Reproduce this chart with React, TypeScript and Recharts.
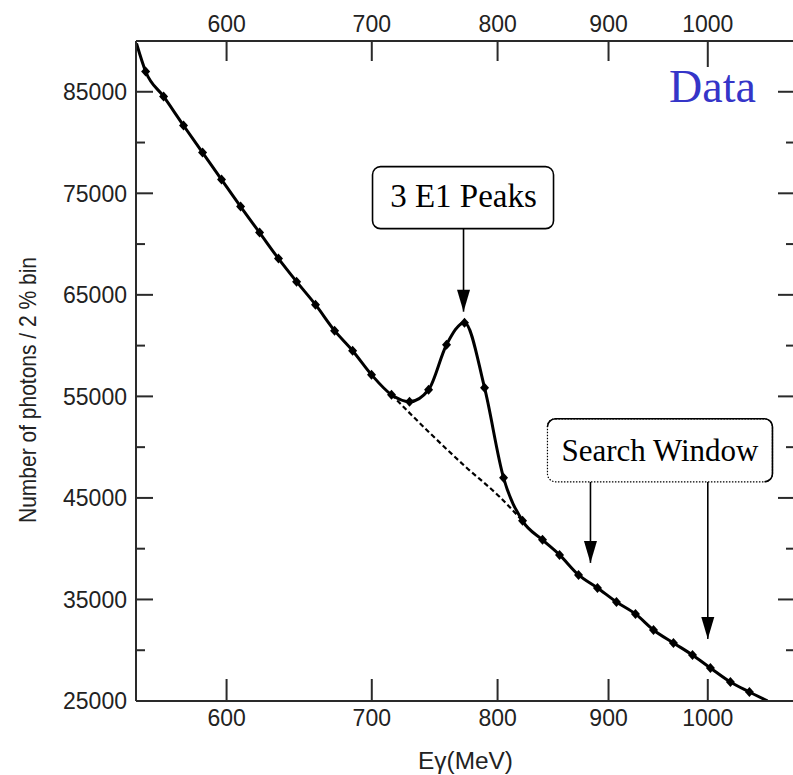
import React from 'react';
import { ComposedChart, Line, XAxis, YAxis, ReferenceDot, ReferenceLine, Label } from 'recharts';

// Measured spectrum (E gamma in MeV, photons per 2% bin)
const energies = [545.3, 550.6, 561.2, 573.2, 584.9, 596.8, 609.0, 621.4, 634.0, 646.3, 659.4, 672.9, 685.9, 699.8, 714.8, 728.6, 743.5, 757.8, 772.4, 789.0, 805.1, 821.5, 839.1, 854.4, 871.8, 889.5, 907.6, 926.1, 944.0, 964.2, 983.9, 1002.8, 1024.3, 1045.2, 1065.4];
const photons = [89760, 87000, 84536, 81678, 79016, 76355, 73694, 71131, 68568, 66301, 64034, 61471, 59500, 57134, 55162, 54472, 55655, 60091, 62259, 55852, 46981, 42743, 40870, 39391, 37420, 36138, 34758, 33576, 31998, 30717, 29534, 28253, 26873, 25887, 25000];

// Smooth background under the peak (dashed)
const bgEnergies = [714.8, 744.3, 772.4, 801.7, 821.5];
const bgPhotons = [55162, 51417, 48164, 45108, 42743];

const xTicks = [600, 700, 800, 900, 1000];
const yTicks = [25000, 30000, 35000, 40000, 45000, 50000, 55000, 60000, 65000, 70000, 75000, 80000, 85000, 90000];
const yLabelTicks = [25000, 35000, 45000, 55000, 65000, 75000, 85000];

// Annotation anchors (data coordinates)
const peakArrowTip = { e: 771.6, n: 63344 };
const peakArrowBase = { n: 71525 };
const searchBox = { e: 950.5, n: 49692 };
const searchBoxBottom = 46587;
const searchLeftTip = { e: 882.9, n: 38603 };
const searchRightTip = { e: 1000, n: 31111 };
const dataLabel = { e: 1005, n: 83945 };

const spectrum = energies.map((e, i) => ({ e, n: photons[i] }));
const background = bgEnergies.map((e, i) => ({ e, bg: bgPhotons[i] }));

const SANS = '"Liberation Sans", Arial, Helvetica, sans-serif';
const SERIF = '"Liberation Serif", "Times New Roman", serif';
const AX = '#2a2a2a';

const BottomTick = (p: any) => (
  <g>
    <line x1={p.x} x2={p.x} y1={p.y} y2={p.y - 22} stroke={AX} strokeWidth={2} />
    <text x={p.x} y={p.y + 25} textAnchor="middle" fontFamily={SANS} fontSize={23} fill="#222">{p.payload.value}</text>
  </g>
);
const TopTick = (p: any) => (
  <g>
    <line x1={p.x} x2={p.x} y1={p.y} y2={p.y + (p.payload.value === 1000 ? 26 : 20)} stroke={AX} strokeWidth={2} />
    <text x={p.x} y={p.y - 9} textAnchor="middle" fontFamily={SANS} fontSize={23} fill="#222">{p.payload.value}</text>
  </g>
);
const LeftTick = (p: any) => {
  const major = yLabelTicks.includes(p.payload.value);
  return (
    <g>
      <line x1={p.x} x2={p.x + (major ? 17 : 9)} y1={p.y} y2={p.y} stroke={AX} strokeWidth={2} />
      {major && (
        <text x={p.x - 9} y={p.y} dy="0.36em" textAnchor="end" fontFamily={SANS} fontSize={23} fill="#222">{p.payload.value}</text>
      )}
    </g>
  );
};
const RightTick = (p: any) => {
  const major = yLabelTicks.includes(p.payload.value);
  return <line x1={p.x} x2={p.x - (major ? 17 : 9)} y1={p.y} y2={p.y} stroke={AX} strokeWidth={2} />;
};

const renderDot = (p: any) => {
  const { cx, cy, index } = p;
  if (index === 0 || index === energies.length - 1) return <g key={`d${index}`} />;
  return (
    <path key={`d${index}`} d={`M${cx},${cy - 5} L${cx + 4.5},${cy} L${cx},${cy + 5} L${cx - 4.5},${cy} Z`} fill="#000" />
  );
};

const ArrowHead = (p: any) => (
  <polygon points={`${p.cx},${p.cy} ${p.cx - 6.5},${p.cy - 22} ${p.cx + 6.5},${p.cy - 22}`} fill="#000" />
);

const PeakBox = (p: any) => {
  const { cx, cy } = p;
  return (
    <g>
      <rect x={cx - 91} y={cy - 145} width={181} height={62} rx={8} fill="#fff" stroke="#000" strokeWidth={1.6} />
      <text x={cx} y={cy - 105} textAnchor="middle" fontFamily={SERIF} fontSize={33} fill="#000">3 E1 Peaks</text>
    </g>
  );
};

const SearchBox = (p: any) => {
  const { cx, cy } = p;
  const x0 = cx - 112.5, x1 = cx + 112.5, y0 = cy - 31.5, y1 = cy + 31.5, r = 8;
  return (
    <g>
      <rect x={x0} y={y0} width={225} height={63} rx={r} fill="#fff" stroke="#000" strokeWidth={1.2} strokeDasharray="1.5 1.5" />
      <path
        d={`M${x0},${y0 + r} A${r},${r} 0 0 1 ${x0 + r},${y0} L${x1 - r},${y0} A${r},${r} 0 0 1 ${x1},${y0 + r} L${x1},${y1 - r} A${r},${r} 0 0 1 ${x1 - r},${y1}`}
        fill="none" stroke="#000" strokeWidth={1.6}
      />
      <text x={cx} y={cy + 10.5} textAnchor="middle" fontFamily={SERIF} fontSize={31} fill="#000">Search Window</text>
    </g>
  );
};

const DataText = (p: any) => (
  <text x={p.cx} y={p.cy} textAnchor="middle" fontFamily={SERIF} fontSize={46} fill="#3535c8">Data</text>
);

export default function App() {
  return (
    <div style={{ position: 'absolute', left: 0, top: 0, width: 793, height: 775, overflow: 'hidden', background: '#fff' }}>
      <ComposedChart width={800} height={775} margin={{ top: 0, right: 0, bottom: 0, left: 0 }}>
        <XAxis
          dataKey="e" type="number" scale="log" domain={[545, 1097]} allowDataOverflow
          ticks={xTicks} interval={0} tickSize={0} tickMargin={0} tickLine={false}
          height={74} axisLine={{ stroke: AX, strokeWidth: 2 }} tick={BottomTick}
        >
          <Label
            content={(lp: any) => {
              const vb = lp.viewBox || { x: 136, y: 701, width: 659, height: 74 };
              return (
                <text x={vb.x + vb.width / 2} y={vb.y + vb.height - 6} textAnchor="middle" fontFamily={SANS} fontSize={23}
                  textLength={95} lengthAdjust="spacingAndGlyphs" fill="#222">
                  Eγ(MeV)
                </text>
              );
            }}
          />
        </XAxis>
        <XAxis
          xAxisId="top" orientation="top" dataKey="e" type="number" scale="log" domain={[545, 1097]} allowDataOverflow
          ticks={xTicks} interval={0} tickSize={0} tickMargin={0} tickLine={false}
          height={41} axisLine={{ stroke: AX, strokeWidth: 2 }} tick={TopTick}
        />
        <YAxis
          type="number" domain={[25000, 90000]} allowDataOverflow ticks={yTicks} interval={0}
          tickSize={0} tickMargin={0} tickLine={false} width={136}
          axisLine={{ stroke: AX, strokeWidth: 2 }} tick={LeftTick}
        >
          <Label
            content={() => (
              <text transform="rotate(-90)" x={-390} y={36} textAnchor="middle" fontFamily={SANS} fontSize={24}
                textLength={266} lengthAdjust="spacingAndGlyphs" fill="#222">
                Number of photons / 2 % bin
              </text>
            )}
          />
        </YAxis>
        <YAxis
          yAxisId="right" orientation="right" type="number" domain={[25000, 90000]} allowDataOverflow ticks={yTicks} interval={0}
          tickSize={0} tickMargin={0} tickLine={false} width={5}
          axisLine={{ stroke: AX, strokeWidth: 2 }} tick={RightTick}
        />
        <Line data={background} dataKey="bg" type="monotone" stroke="#000" strokeWidth={2.2} strokeDasharray="5 3" dot={false} isAnimationActive={false} />
        <Line data={spectrum} dataKey="n" type="monotone" stroke="#000" strokeWidth={3} dot={renderDot} isAnimationActive={false} />

        <ReferenceLine segment={[{ x: peakArrowTip.e, y: peakArrowBase.n }, { x: peakArrowTip.e, y: peakArrowTip.n }]} stroke="#000" strokeWidth={1.6} />
        <ReferenceDot x={peakArrowTip.e} y={peakArrowTip.n} shape={ArrowHead} />
        <ReferenceDot x={peakArrowTip.e} y={peakArrowTip.n} shape={PeakBox} />

        <ReferenceLine segment={[{ x: searchLeftTip.e, y: searchBoxBottom }, { x: searchLeftTip.e, y: searchLeftTip.n }]} stroke="#000" strokeWidth={1.6} />
        <ReferenceLine segment={[{ x: searchRightTip.e, y: searchBoxBottom }, { x: searchRightTip.e, y: searchRightTip.n }]} stroke="#000" strokeWidth={1.6} />
        <ReferenceDot x={searchLeftTip.e} y={searchLeftTip.n} shape={ArrowHead} />
        <ReferenceDot x={searchRightTip.e} y={searchRightTip.n} shape={ArrowHead} />
        <ReferenceDot x={searchBox.e} y={searchBox.n} shape={SearchBox} />

        <ReferenceDot x={dataLabel.e} y={dataLabel.n} shape={DataText} />
      </ComposedChart>
    </div>
  );
}
